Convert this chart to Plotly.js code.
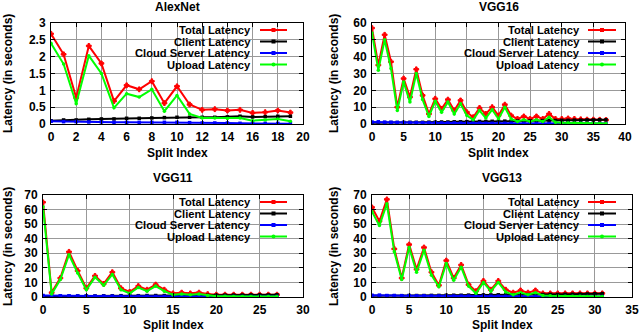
<!DOCTYPE html>
<html>
<head>
<meta charset="utf-8">
<script src="https://cdn.plot.ly/plotly-3.0.1.min.js"></script>
<style>
  body { margin: 0; padding: 0; background: #fff; }
  #chart { width: 640px; height: 333px; }
</style>
</head>
<body>
<div id="chart"></div>
<script>
// ---- data ----
var alexIdx = [0,1,2,3,4,5,6,7,8,9,10,11,12,13,14,15,16,17,18,19];
var alexTotal  = [2.68,2.07,0.78,2.32,1.80,0.68,1.15,1.03,1.27,0.62,1.12,0.58,0.42,0.44,0.40,0.42,0.33,0.35,0.40,0.34];
var alexClient = [0.10,0.12,0.12,0.14,0.15,0.15,0.17,0.17,0.18,0.19,0.20,0.20,0.20,0.20,0.21,0.23,0.21,0.22,0.23,0.23];
var alexCloud  = [0.08,0.07,0.07,0.06,0.06,0.05,0.05,0.05,0.05,0.05,0.05,0.04,0.03,0.03,0.03,0.02,0.02,0.02,0.02,0.01];
var alexUpload = [2.40,1.78,0.60,2.03,1.50,0.48,0.90,0.80,1.03,0.38,0.85,0.30,0.18,0.18,0.16,0.18,0.10,0.12,0.15,0.08];

var vgg16Idx = [0,1,2,3,4,5,6,7,8,9,10,11,12,13,14,15,16,17,18,19,20,21,22,23,24,25,26,27,28,29,30,31,32,33,34,35,36,37];
var vgg16Total  = [57,35,53,37,10,27,16,32.5,17,6,15,9,14.5,8,14,7,4,9.5,6,10,5,11.5,5,3,4.5,3,4.5,3,6,3,3,3.3,3,2.8,2.6,2.6,2.5,2.4];
var vgg16Client = [0.8,0.8,0.8,0.9,0.9,0.9,1.0,1.0,1.0,1.1,1.1,1.2,1.2,1.3,1.3,1.4,1.4,1.5,1.5,1.6,1.6,1.7,1.7,1.8,1.8,1.9,1.9,2.0,2.0,2.1,2.2,2.2,2.3,2.3,2.4,2.4,2.5,2.5];
var vgg16Cloud  = [1.2,1.3,1.1,1.0,0.9,0.9,0.8,0.8,0.7,0.7,0.7,0.6,0.6,0.6,0.5,0.5,0.5,0.5,0.4,0.4,0.4,0.4,0.4,0.3,0.3,0.3,0.3,0.3,0.3,0.3,0.3,0.3,0.3,0.3,0.3,0.3,0.3,0.3];
var vgg16Upload = [54,32,50,33,8,25,13,30,14.5,4.5,13.5,7,13,6,12,5,2.5,8,3.5,8.5,3,10,3,1.5,2.5,1.5,2.5,1.5,4,1,0.8,0.7,0.6,0.5,0.4,0.4,0.3,0.3];

var vgg11Idx = [0,1,2,3,4,5,6,7,8,9,10,11,12,13,14,15,16,17,18,19,20,21,22,23,24,25,26,27];
var vgg11Total  = [65,3,13,31,18,6,14.5,9,17,6,3.5,7.5,5,8.5,5,2.5,3,2.5,3,2,1.6,1.6,1.6,1.6,1.6,1.6,1.6,1.6];
var vgg11Client = [0.5,0.5,0.6,0.6,0.7,0.7,0.7,0.8,0.8,0.9,0.9,0.9,1.0,1.0,1.0,1.1,1.1,1.1,1.2,1.2,1.2,1.3,1.3,1.3,1.4,1.4,1.4,1.5];
var vgg11Cloud  = [1.0,0.9,0.8,0.8,0.7,0.7,0.6,0.6,0.6,0.5,0.5,0.5,0.5,0.4,0.4,0.4,0.4,0.3,0.3,0.3,0.3,0.3,0.3,0.3,0.3,0.3,0.3,0.3];
var vgg11Upload = [62,2,12,29,16.5,5,13.5,8,15.5,5,2.5,6.5,4,7.5,4,1.5,2,1.5,2,1,0.5,0.5,0.4,0.4,0.3,0.3,0.3,0.3];

var vgg13Idx = [0,1,2,3,4,5,6,7,8,9,10,11,12,13,14,15,16,17,18,19,20,21,22,23,24,25,26,27,28,29,30,31];
var vgg13Total  = [61.5,52,67,33,13,36,19,34,17,8,25,13,22,8.5,4,11,5,11,5,3,4.5,3,4.5,2.5,2.5,2.5,2.5,2.5,2.5,2.5,2.5,2.5];
var vgg13Client = [0.8,0.8,0.8,0.9,0.9,1.0,1.0,1.0,1.1,1.1,1.2,1.2,1.2,1.3,1.3,1.4,1.4,1.5,1.5,1.5,1.6,1.6,1.7,1.7,1.8,1.8,1.9,1.9,2.0,2.1,2.2,2.3];
var vgg13Cloud  = [1.2,1.3,1.0,1.0,0.9,0.9,0.8,0.8,0.7,0.7,0.7,0.6,0.6,0.6,0.5,0.5,0.5,0.5,0.4,0.4,0.4,0.4,0.4,0.3,0.3,0.3,0.3,0.3,0.3,0.3,0.3,0.3];
var vgg13Upload = [58.5,49,64,31,12,34,17,32,15,7,23,11.5,20.5,7.5,2.5,10,4,10,3.5,1.5,3,1.5,3,1,0.8,0.7,0.6,0.5,0.5,0.4,0.4,0.4];

var seriesNames = ["Total Latency", "Client Latency", "Cloud Server Latency", "Upload Latency"];
var seriesColors = ["#ff0000", "#000000", "#0000ff", "#00ff00"];
var seriesSymbols = ["cross", "square", "square", "circle"];

// ---- layout helpers ----
var W = 640, H = 333;
function px(x) { return x / W; }
function py(y) { return 1 - y / H; }

var panels = [
  {title: "AlexNet", idx: alexIdx, data: [alexTotal, alexClient, alexCloud, alexUpload],
   box: [51, 303, 23, 124], xr: [0, 20], xd: 2, yr: [0, 3], yd: 0.5,
   key: [117, 67], textRight: 252, lineX: [260, 287], rows: [30, 41.5, 53, 64.5],
   titleY: 7, xtitleY: 153, ytitleX: 8, ytitleY: 74},
  {title: "VGG16", idx: vgg16Idx, data: [vgg16Total, vgg16Client, vgg16Cloud, vgg16Upload],
   box: [372, 625, 23, 124], xr: [0, 40], xd: 5, yr: [0, 60], yd: 10,
   key: [444, 67], textRight: 581, lineX: [588, 616], rows: [30, 41.5, 53, 64.5],
   titleY: 7, xtitleY: 153, ytitleX: 334, ytitleY: 74},
  {title: "VGG11", idx: vgg11Idx, data: [vgg11Total, vgg11Client, vgg11Cloud, vgg11Upload],
   box: [43, 303, 195, 297], xr: [0, 30], xd: 5, yr: [0, 70], yd: 10,
   key: [116, 242], textRight: 252, lineX: [260, 287], rows: [202, 213.5, 225, 236.5],
   titleY: 178, xtitleY: 325, ytitleX: 8, ytitleY: 247},
  {title: "VGG13", idx: vgg13Idx, data: [vgg13Total, vgg13Client, vgg13Cloud, vgg13Upload],
   box: [372, 632, 195, 297], xr: [0, 35], xd: 5, yr: [0, 70], yd: 10,
   key: [445, 242], textRight: 581, lineX: [588, 616], rows: [202, 213.5, 225, 236.5],
   titleY: 178, xtitleY: 325, ytitleX: 334, ytitleY: 247}
];

var boldFont = {family: "Liberation Sans, Arial, sans-serif", size: 12, color: "#000", weight: "bold"};
var tickFont = {family: "Liberation Sans, Arial, sans-serif", size: 12, color: "#000", weight: "bold"};
var keyFont = {family: "Liberation Sans, Arial, sans-serif", size: 11.2, color: "#000", weight: "bold"};

var traces = [];
var layout = {
  width: W, height: H,
  margin: {l: 0, r: 0, t: 0, b: 0},
  paper_bgcolor: "#fff", plot_bgcolor: "#fff",
  showlegend: false,
  annotations: [], shapes: []
};

panels.forEach(function (p, i) {
  var n = i === 0 ? "" : String(i + 1);
  var xa = "x" + n, ya = "y" + n;
  var b = p.box;

  for (var s = 0; s < 4; s++) {
    traces.push({
      x: p.idx, y: p.data[s], xaxis: xa, yaxis: ya,
      type: "scatter", mode: "lines+markers", name: seriesNames[s],
      line: {color: seriesColors[s], width: 2},
      marker: {color: seriesColors[s], symbol: seriesSymbols[s], size: s === 0 ? 4 : 3.5,
               line: {width: s === 0 ? 1 : 0, color: seriesColors[s]}},
      cliponaxis: true
    });
  }

  var axCommon = {
    showline: true, linecolor: "#000", linewidth: 1, mirror: "ticks",
    ticks: "inside", ticklen: 4, tickcolor: "#000",
    showgrid: true, gridcolor: "#999999", gridwidth: 1,
    zeroline: false, tickfont: tickFont, fixedrange: true
  };
  layout["xaxis" + n] = Object.assign({}, axCommon, {
    domain: [px(b[0]), px(b[1])], range: p.xr, dtick: p.xd, tick0: 0,
    anchor: ya, ticklabelstandoff: 2
  });
  layout["yaxis" + n] = Object.assign({}, axCommon, {
    domain: [py(b[3]), py(b[2])], range: p.yr, dtick: p.yd, tick0: 0,
    anchor: xa, ticklabelstandoff: 2
  });

  // key background hides the grid
  layout.shapes.push({
    type: "rect", xref: "paper", yref: "paper", layer: "between",
    x0: px(p.key[0]), x1: px(b[1]) - 0.001, y0: py(p.key[1]), y1: py(b[2]) - 0.002,
    fillcolor: "#fff", line: {width: 0}
  });

  for (var k = 0; k < 4; k++) {
    layout.annotations.push({
      xref: "paper", yref: "paper", x: px(p.textRight), y: py(p.rows[k]),
      xanchor: "right", yanchor: "middle", showarrow: false, borderpad: 0,
      text: seriesNames[k], font: keyFont
    });
    layout.shapes.push({
      type: "line", xref: "paper", yref: "paper", layer: "above",
      x0: px(p.lineX[0]), x1: px(p.lineX[1]), y0: py(p.rows[k]), y1: py(p.rows[k]),
      line: {color: seriesColors[k], width: 2}
    });
    var cx = (p.lineX[0] + p.lineX[1]) / 2;
    layout.shapes.push({
      type: k === 3 ? "circle" : "rect", xref: "paper", yref: "paper", layer: "above",
      x0: px(cx - 2), x1: px(cx + 2), y0: py(p.rows[k] + 2), y1: py(p.rows[k] - 2),
      fillcolor: seriesColors[k], line: {width: 0}
    });
  }

  layout.annotations.push({
    xref: "paper", yref: "paper", x: px((b[0] + b[1]) / 2), y: py(p.titleY),
    xanchor: "center", yanchor: "middle", showarrow: false,
    text: p.title, font: boldFont
  });
  layout.annotations.push({
    xref: "paper", yref: "paper", x: px((b[0] + b[1]) / 2), y: py(p.xtitleY),
    xanchor: "center", yanchor: "middle", showarrow: false,
    text: "Split Index", font: boldFont
  });
  layout.annotations.push({
    xref: "paper", yref: "paper", x: px(p.ytitleX), y: py(p.ytitleY),
    xanchor: "center", yanchor: "middle", showarrow: false, textangle: -90,
    text: "Latency (in seconds)", font: boldFont
  });
});

Plotly.newPlot("chart", traces, layout, {displayModeBar: false, staticPlot: true});
</script>
</body>
</html>
